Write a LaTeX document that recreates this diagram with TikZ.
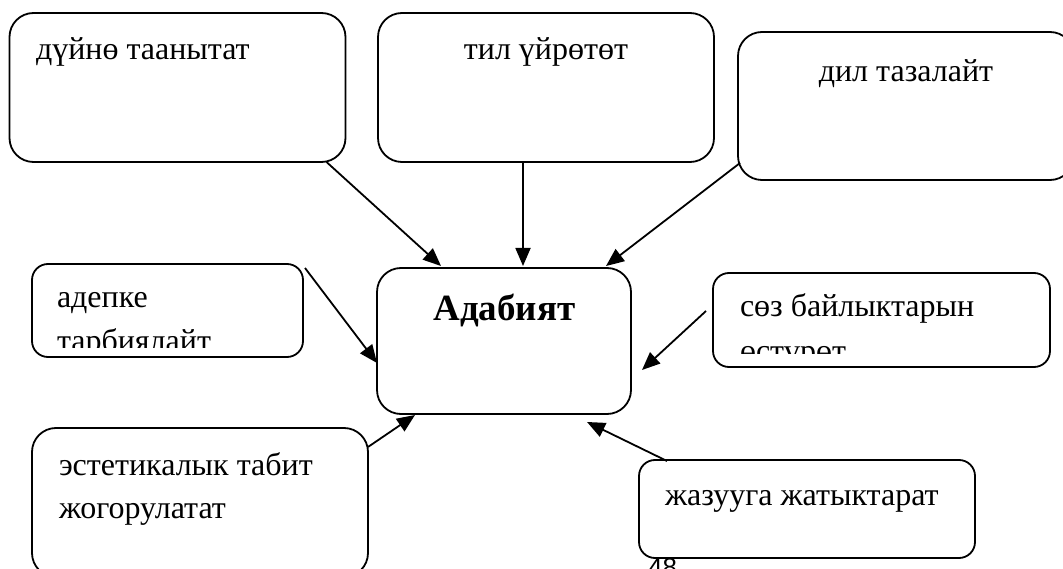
\documentclass[tikz,border=0pt]{standalone}
\usepackage{fontspec}
\setmainfont{Liberation Serif}
\newfontfamily\numfont{Liberation Sans}
\usetikzlibrary{arrows.meta,calc}
\begin{document}
\begin{tikzpicture}[x=1pt,y=-1pt,
  box/.style={draw, line width=1.8pt, rectangle, inner sep=0pt, outer sep=0pt},
  tallbox/.style={box, rounded corners=24pt},
  lowbox/.style={box, rounded corners=16pt},
  lbl/.style={anchor=base west, inner sep=0pt, outer sep=0pt, font=\fontsize{32}{44}\selectfont},
  clbl/.style={anchor=base, inner sep=0pt, outer sep=0pt, font=\fontsize{32}{44}\selectfont},
  arr/.style={line width=1.8pt, -{Triangle[length=18pt,width=15pt]}}]
\path[fill=white,use as bounding box] (0,0) rectangle (1063,569);
% boxes
\node[tallbox, minimum width=336pt, minimum height=149pt] (b1) at (177.5,87.5) {};
\node[tallbox, minimum width=336pt, minimum height=149pt] (b2) at (546,87.5) {};
\node[tallbox, minimum width=336pt, minimum height=148pt] (b3) at (906,106) {};
\node[lowbox, minimum width=271pt, minimum height=93pt] (b4) at (167.5,310.5) {};
\node[tallbox, minimum width=254pt, minimum height=146pt] (c) at (504,341) {};
\node[lowbox, minimum width=337pt, minimum height=94pt] (b6) at (881.5,320) {};
\node[tallbox, minimum width=336pt, minimum height=149pt] (b7) at (200,502.5) {};
\node[lowbox, minimum width=336pt, minimum height=98pt] (b8) at (807,509) {};
% texts
\node[lbl] (t1) at (36,60) {дүйнө таанытат};
\node[clbl] (t2) at (546,60) {тил үйрөтөт};
\node[clbl] (t3) at (906,82) {дил тазалайт};
\begin{scope}
  \clip (b4.north west) rectangle ($(b4.south east)+(0,-10)$);
  \node[lbl] (t4a) at (57,308) {адепке};
  \node[lbl] (t4b) at (57,352) {тарбиялайт};
\end{scope}
\node[anchor=base, inner sep=0pt, font=\fontsize{37}{44}\selectfont\bfseries] (tc) at (504.5,321) {Адабият};
\begin{scope}
  \clip (b6.north west) rectangle ($(b6.south east)+(0,-14)$);
  \node[lbl] (t6a) at (740,317) {сөз байлыктарын};
  \node[lbl] (t6b) at (740,361) {өстүрөт};
\end{scope}
\node[lbl] (t7a) at (59,475) {эстетикалык табит};
\node[lbl] (t7b) at (59,518) {жогорулатат};
\node[lbl] (t8) at (665,505) {жазуугa жатыктарат};
\node[anchor=base west, inner sep=0pt, font=\numfont\fontsize{26}{30}\selectfont] (pg) at (648,576) {48};
% arrows
\draw[arr] ($(b1.south east)+(-19,0)$) -- ($(c.north west)+(64,-2)$);
\draw[arr] ($(b2.south west)+(145,0)$) -- ($(c.north west)+(146,-2)$);
\draw[arr] ($(b3.south west)+(2,-17)$) -- ($(c.north east)+(-25,-2)$);
\draw[arr] ($(b4.north east)+(2,4)$) -- ($(c.west)+(0,22)$);
\draw[arr] ($(b6.west)+(-7,-9)$) -- ($(c.east)+(11,29)$);
\draw[arr] ($(b7.north east)+(0,19)$) -- ($(c.south west)+(38,1)$);
\draw[arr] ($(b8.north west)+(28,1)$) -- ($(c.south east)+(-44,8)$);
\end{tikzpicture}
\end{document}
